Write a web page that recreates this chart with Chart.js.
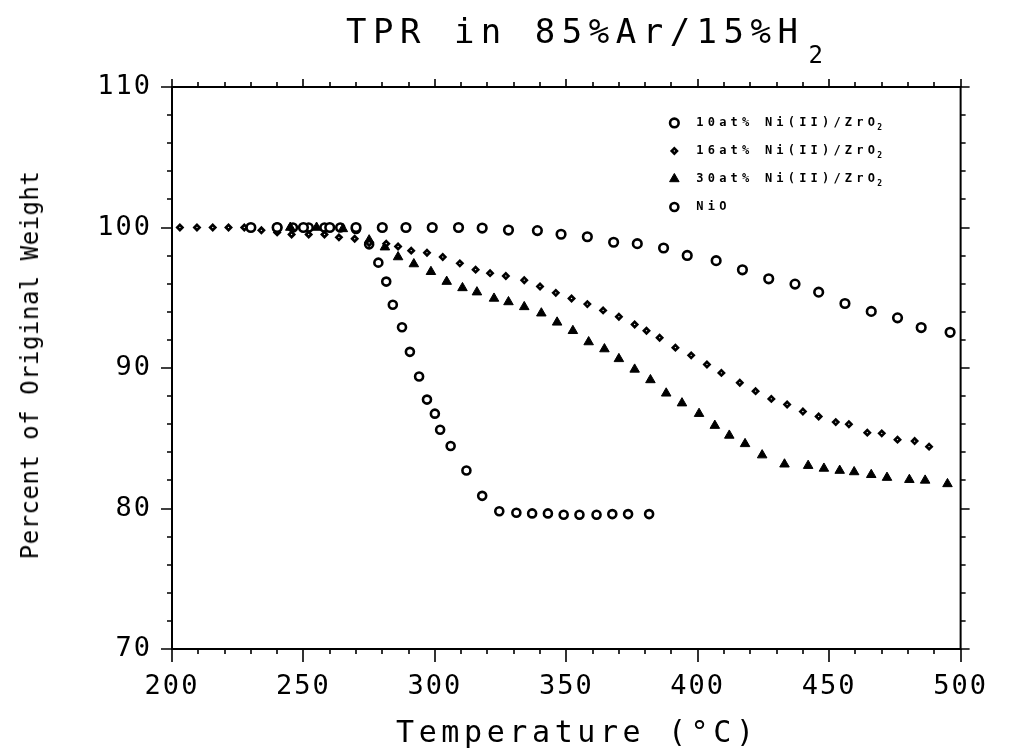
<!DOCTYPE html>
<html>
<head>
<meta charset="utf-8">
<script src="https://cdn.jsdelivr.net/npm/chart.js@4.4.0/dist/chart.umd.min.js"></script>
<style>
html,body{margin:0;padding:0;background:#fff;}
#wrap{position:relative;width:1010px;height:750px;overflow:hidden;background:#fff;}
#c{position:absolute;left:0;top:0;}
.t{position:absolute;font-family:"DejaVu Sans Mono",monospace;color:#000;white-space:nowrap;line-height:1;}
#title{left:346px;top:14px;font-size:34px;letter-spacing:6.5px;}
#title .sub{position:relative;top:20px;font-size:24px;letter-spacing:0;margin-left:4px;}
#xtitle{left:396px;top:717px;font-size:30px;letter-spacing:4.6px;}
#ytitle{left:30px;top:365px;font-size:24px;letter-spacing:0.5px;transform:translate(-50%,-50%) rotate(-90deg);}
</style>
</head>
<body>
<div id="wrap">
<canvas id="c" width="1010" height="750" style="width:1010px;height:750px"></canvas>
<div class="t" id="title">TPR in 85%Ar/15%H<span class="sub">2</span></div>
<div class="t" id="xtitle">Temperature (°C)</div>
<div class="t" id="ytitle">Percent of Original Weight</div>
</div>
<script>
// ---- data ----
const seriesLabels = ['10at% Ni(II)/ZrO₂', '16at% Ni(II)/ZrO₂', '30at% Ni(II)/ZrO₂', 'NiO'];

const temp10 = [230, 240, 250, 260, 270, 280, 289, 299, 309, 318, 328, 339, 348, 358, 368, 377, 387, 396, 407, 417, 427, 437, 446, 456, 466, 476, 485, 496];
const wt10   = [100, 100, 100, 100, 100, 100, 100, 100, 100, 99.96, 99.82, 99.78, 99.52, 99.34, 98.95, 98.85, 98.54, 98.01, 97.64, 96.99, 96.35, 95.97, 95.40, 94.59, 94.03, 93.57, 92.88, 92.54];

const temp16 = [203, 209.5, 215.5, 221.5, 227.5, 234, 240, 245.5, 252, 258, 263.5, 269.5, 275, 281.5, 286, 291, 297, 303, 309.5, 315.5, 321, 327, 334, 340, 346, 352, 358, 364, 370, 376, 380.5, 385.5, 391.5, 397.5, 403.5, 409, 416, 422, 428, 434, 440, 446, 452.5, 457.5, 464.5, 470, 476, 482.5, 488];
const wt16   = [100, 100, 100, 100, 100, 99.8, 99.65, 99.5, 99.5, 99.5, 99.3, 99.2, 98.9, 98.85, 98.65, 98.35, 98.2, 97.9, 97.45, 97.0, 96.75, 96.55, 96.25, 95.8, 95.35, 94.95, 94.55, 94.1, 93.65, 93.1, 92.65, 92.15, 91.45, 90.9, 90.25, 89.65, 88.95, 88.35, 87.8, 87.4, 86.9, 86.55, 86.15, 86.0, 85.4, 85.35, 84.9, 84.8, 84.4];

const temp30 = [245, 255, 265, 275, 281, 286, 292, 298.5, 304.5, 310.5, 316, 322.5, 328, 334, 340.5, 346.5, 352.5, 358.5, 364.5, 370, 376, 382, 388, 394, 400.5, 406.5, 412, 418, 424.5, 433, 442, 448, 454, 459.5, 466, 472, 480.5, 486.5, 495];
const wt30   = [100, 100, 99.9, 99.1, 98.6, 97.9, 97.4, 96.85, 96.15, 95.7, 95.4, 94.95, 94.7, 94.35, 93.9, 93.25, 92.65, 91.85, 91.35, 90.65, 89.9, 89.15, 88.2, 87.5, 86.75, 85.9, 85.2, 84.6, 83.8, 83.15, 83.05, 82.85, 82.7, 82.6, 82.4, 82.2, 82.05, 82.0, 81.75];

const tempNiO = [240, 246, 252, 258, 264, 270, 275, 278.5, 281.5, 284, 287.5, 290.5, 294, 297, 300, 302, 306, 312, 318, 324.5, 331, 337, 343, 349, 355, 361.5, 367.5, 373.5, 381.5];
const wtNiO   = [100, 100, 100, 100, 100, 99.9, 98.8, 97.5, 96.15, 94.5, 92.9, 91.15, 89.4, 87.75, 86.75, 85.6, 84.45, 82.7, 80.9, 79.8, 79.7, 79.65, 79.65, 79.55, 79.55, 79.55, 79.6, 79.6, 79.6];

const xTicks = [200, 250, 300, 350, 400, 450, 500];
const yTicks = [70, 80, 90, 100, 110];

function pts(t, v) { return t.map((x, i) => ({ x: x, y: v[i] })); }

const styles = [
  { pointStyle: 'circle',  radius: 4.3, borderWidth: 2.6, fill: '#fff' },
  { pointStyle: 'rectRot', radius: 2.6, borderWidth: 2.6, fill: '#fff' },
  { pointStyle: 'triangle', radius: 5.5, borderWidth: 1, fill: '#000' },
  { pointStyle: 'circle',  radius: 4.0, borderWidth: 2.6, fill: '#fff' }
];
const dataSets = [pts(temp10, wt10), pts(temp16, wt16), pts(temp30, wt30), pts(tempNiO, wtNiO)];

function drawMarker(ctx, st, x, y) {
  ctx.save();
  ctx.fillStyle = st.fill; ctx.strokeStyle = '#000'; ctx.lineWidth = st.borderWidth;
  if (Chart.helpers && Chart.helpers.drawPoint) {
    Chart.helpers.drawPoint(ctx, { pointStyle: st.pointStyle, radius: st.radius, rotation: 0, borderWidth: st.borderWidth }, x, y);
  } else {
    ctx.beginPath(); ctx.arc(x, y, st.radius, 0, Math.PI * 2); ctx.fill(); ctx.stroke();
  }
  ctx.restore();
}

const framePlugin = {
  id: 'frame',
  beforeUpdate(chart) { chart.ctx.letterSpacing = '2px'; },
  beforeDraw(chart) { chart.ctx.letterSpacing = '2px'; },
  afterDraw(chart) {
    const ctx = chart.ctx, ca = chart.chartArea;
    const xs = chart.scales.x, ys = chart.scales.y;
    ctx.save();
    ctx.letterSpacing = '0px';
    ctx.strokeStyle = '#000';
    ctx.lineWidth = 2;
    ctx.strokeRect(ca.left, ca.top, ca.right - ca.left, ca.bottom - ca.top);
    ctx.lineWidth = 1.6;
    ctx.beginPath();
    for (let v = xs.min; v <= xs.max + 0.001; v += 10) {
      const p = Math.round(xs.getPixelForValue(v));
      const major = Math.abs(v % 50) < 0.001;
      ctx.moveTo(p, ca.bottom); ctx.lineTo(p, ca.bottom + (major ? 13 : 5));
      ctx.moveTo(p, ca.top); ctx.lineTo(p, ca.top - (major ? 8 : 5));
    }
    for (let v = ys.min; v <= ys.max + 0.001; v += 2) {
      const p = Math.round(ys.getPixelForValue(v));
      const major = Math.abs(v % 10) < 0.001;
      ctx.moveTo(ca.left, p); ctx.lineTo(ca.left - (major ? 11 : 5), p);
      ctx.moveTo(ca.right, p); ctx.lineTo(ca.right + (major ? 9 : 5), p);
    }
    ctx.stroke();

    // legend inside plot area
    const w = ca.right - ca.left, h = ca.bottom - ca.top;
    const lx = ca.left + 0.637 * w;
    for (let i = 0; i < seriesLabels.length; i++) {
      const ly = ca.top + 0.064 * h + i * 0.0498 * h;
      drawMarker(ctx, styles[i], lx, ly);
      let txt = seriesLabels[i], sub = '';
      if (txt.endsWith('₂')) { txt = txt.slice(0, -1); sub = '2'; }
      ctx.fillStyle = '#000';
      ctx.textBaseline = 'middle';
      ctx.textAlign = 'left';
      ctx.font = 'bold 12px "DejaVu Sans Mono", monospace';
      ctx.letterSpacing = '4.2px';
      ctx.fillText(txt, lx + 22, ly);
      if (sub) {
        const tw = ctx.measureText(txt).width;
        ctx.font = 'bold 8px "DejaVu Sans Mono", monospace';
        ctx.letterSpacing = '0px';
        ctx.fillText(sub, lx + 22 + tw - 2, ly + 5);
      }
    }
    ctx.restore();
  }
};

new Chart(document.getElementById('c'), {
  type: 'scatter',
  data: {
    datasets: dataSets.map((d, i) => ({
      label: seriesLabels[i],
      data: d,
      pointStyle: styles[i].pointStyle,
      pointRadius: styles[i].radius,
      borderWidth: styles[i].borderWidth,
      borderColor: '#000',
      backgroundColor: styles[i].fill,
      showLine: false
    }))
  },
  options: {
    responsive: false,
    animation: false,
    events: [],
    clip: false,
    layout: { padding: { left: 0, right: 24, top: 87, bottom: 0 } },
    plugins: { legend: { display: false }, title: { display: false }, tooltip: { enabled: false } },
    scales: {
      x: {
        type: 'linear', min: 200, max: 500,
        afterBuildTicks(s) { s.ticks = xTicks.map(v => ({ value: v })); },
        ticks: { font: { family: 'DejaVu Sans Mono', size: 27 }, color: '#000', padding: 22, maxRotation: 0, autoSkip: false },
        grid: { display: false, drawTicks: false },
        border: { display: false },
        afterFit(s) { s.height = 101; }
      },
      y: {
        type: 'linear', min: 70, max: 110,
        afterBuildTicks(s) { s.ticks = yTicks.map(v => ({ value: v })); },
        ticks: { font: { family: 'DejaVu Sans Mono', size: 27 }, color: '#000', padding: 20, autoSkip: false },
        grid: { display: false, drawTicks: false },
        border: { display: false },
        afterFit(s) { s.width = 172; }
      }
    }
  },
  plugins: [framePlugin]
});
</script>
</body>
</html>
